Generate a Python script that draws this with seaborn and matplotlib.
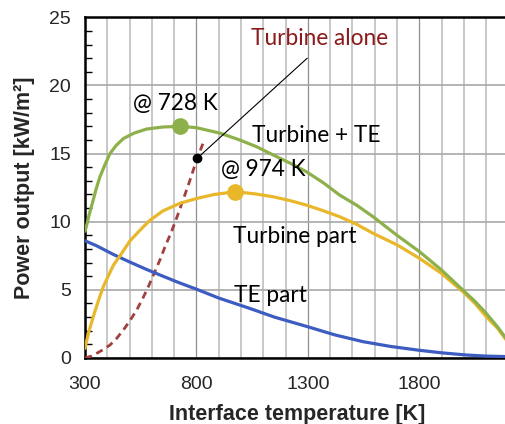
import numpy as np
import pandas as pd
import matplotlib.pyplot as plt
import seaborn as sns
from matplotlib.ticker import MultipleLocator, FixedLocator

sns.set_style('white')
plt.rcParams['font.family'] = ['Liberation Sans', 'DejaVu Sans']

# values
temp_combined = [300, 310, 320, 337, 350, 367, 390, 412, 440, 472, 520, 576, 650, 728, 800,
                 905, 994, 1070, 1144, 1220, 1293, 1370, 1442, 1520, 1592, 1700, 1801, 1900,
                 1995, 2050, 2100, 2150, 2200]
power_combined = [9.3, 9.9, 10.6, 11.6, 12.4, 13.3, 14.2, 15.0, 15.6, 16.1, 16.5, 16.8, 16.95,
                  17.0, 16.9, 16.5, 16.0, 15.5, 14.9, 14.3, 13.67, 12.85, 11.96, 11.2, 10.37,
                  9.0, 7.8, 6.45, 4.99, 4.15, 3.28, 2.3, 1.2]

temp_turbine = [300, 315, 337, 360, 382, 427, 457, 502, 554, 591, 650, 726, 800, 880, 974,
                1060, 1144, 1220, 1293, 1370, 1442, 1520, 1592, 1700, 1801, 1900, 1995, 2050,
                2100, 2150, 2200]
power_turbine = [0.7, 1.8, 3.03, 4.2, 5.23, 6.8, 7.5, 8.6, 9.5, 10.1, 10.8, 11.35, 11.7, 12.0,
                 12.2, 12.05, 11.83, 11.55, 11.22, 10.8, 10.37, 9.8, 9.15, 8.3, 7.31, 6.2, 4.87,
                 4.0, 3.03, 2.2, 1.1]

temp_te = [300, 350, 427, 500, 576, 650, 726, 800, 900, 1039, 1150, 1298, 1420, 1547, 1670,
           1798, 1900, 2010, 2100, 2200]
power_te = [8.6, 8.25, 7.6, 7.05, 6.5, 6.0, 5.5, 5.05, 4.4, 3.64, 3.0, 2.3, 1.7, 1.2, 0.85,
            0.57, 0.38, 0.22, 0.14, 0.1]

temp_alone = [300, 330, 352, 380, 412, 440, 472, 500, 532, 560, 584, 610, 636, 660, 688, 714,
              740, 770, 800, 833]
power_alone = [0.0, 0.15, 0.34, 0.6, 0.95, 1.4, 2.05, 2.7, 3.52, 4.4, 5.23, 6.2, 7.19, 8.2,
               9.27, 10.4, 11.6, 13.0, 14.5, 15.9]

peak_temp = [728, 974]
peak_power = [17.0, 12.2]

green = '#8db04b'
gold = '#e8b82a'
blue = '#3c5cc2'
red = '#a0403f'

fig = plt.figure(figsize=(5.06, 4.24), dpi=100)
ax = fig.add_axes([85 / 506, 1 - 358 / 424, (508.5 - 85) / 506, (358 - 17.3) / 424])

sns.lineplot(x=temp_alone, y=power_alone, ax=ax, color=red, lw=2, linestyle=(0, (2.6, 1.8)),
             sort=False, estimator=None, zorder=3)
sns.lineplot(x=temp_te, y=power_te, ax=ax, color=blue, lw=2.3, sort=False, estimator=None, zorder=3)
sns.lineplot(x=temp_turbine, y=power_turbine, ax=ax, color=gold, lw=2.3, sort=False,
             estimator=None, zorder=4)
sns.lineplot(x=temp_combined, y=power_combined, ax=ax, color=green, lw=2.3, sort=False,
             estimator=None, zorder=4)

ax.plot(peak_temp[0], peak_power[0], 'o', color=green, ms=11, zorder=5)
ax.plot(peak_temp[1], peak_power[1], 'o', color=gold, ms=11, zorder=5)

# pointer for "Turbine alone"
ax.plot([803, 1297], [14.65, 22.0], color='black', lw=0.8, zorder=5)
ax.plot(803, 14.65, 'o', color='black', ms=6, zorder=6)

ax.set_xlim(300, 2200)
ax.set_ylim(0, 25)
ax.xaxis.set_major_locator(FixedLocator([300, 800, 1300, 1800]))
ax.xaxis.set_minor_locator(MultipleLocator(100))
ax.yaxis.set_major_locator(MultipleLocator(5))
ax.yaxis.set_minor_locator(MultipleLocator(1))

ax.grid(True, which='major', axis='y', color='#a8a8a8', lw=1.2)
ax.grid(True, which='major', axis='x', color='#909090', lw=0.9)
ax.grid(True, which='minor', axis='x', color='#c4c4c4', lw=1.3)
ax.set_axisbelow(True)

ax.tick_params(axis='both', which='major', direction='out', length=6, width=1,
               labelsize=14, color='black')
ax.tick_params(axis='x', which='major', pad=7)
ax.tick_params(axis='y', which='major', pad=4)
ax.tick_params(axis='y', which='minor', direction='in', length=5, width=1, color='black', left=True)
ax.tick_params(axis='x', which='minor', length=0)

for side in ['left', 'bottom', 'top']:
    ax.spines[side].set_color('black')
    ax.spines[side].set_linewidth(1.8)
ax.spines['right'].set_visible(False)

ax.set_xlabel('Interface temperature [K]', fontsize=15.5, fontweight='bold', labelpad=8)
ax.set_ylabel('Power output [kW/m²]', fontsize=15.5, fontweight='bold', labelpad=10)

note = dict(fontsize=16.3, family=['Lato', 'DejaVu Sans'], va='center', ha='left', zorder=7)
ax.text(514, 18.7, '@ 728 K', color='black', **note)
ax.text(912, 13.8, '@ 974 K', color='black', **note)
ax.text(1051, 16.36, 'Turbine + TE', color='black', **note)
ax.text(963, 8.9, 'Turbine part', color='black', **note)
ax.text(970, 4.62, 'TE part', color='black', **note)
ax.text(1046, 23.45, 'Turbine alone', color='#8b1a1a', **note)

fig.savefig('out.png', dpi=100)
